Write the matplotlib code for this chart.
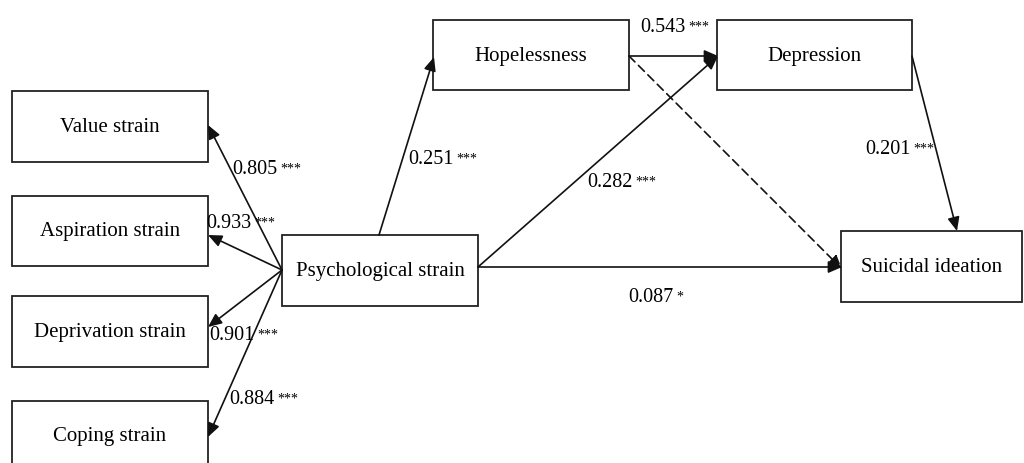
import matplotlib.pyplot as plt
from matplotlib.patches import Rectangle

plt.rcParams['font.family'] = ['Liberation Serif', 'DejaVu Serif']

# nodes of the path model
node_names = ['Value strain', 'Aspiration strain', 'Deprivation strain', 'Coping strain',
              'Psychological strain', 'Hopelessness', 'Depression', 'Suicidal ideation']

# paths: (from, to, coefficient, stars, dashed)
path_from = ['Psychological strain'] * 7 + ['Hopelessness', 'Hopelessness', 'Depression']
path_to = ['Value strain', 'Aspiration strain', 'Deprivation strain', 'Coping strain',
           'Hopelessness', 'Depression', 'Suicidal ideation',
           'Depression', 'Suicidal ideation', 'Suicidal ideation']
path_coef = ['0.805', '0.933', '0.901', '0.884', '0.251', '0.282', '0.087',
             '0.543', None, '0.201']
path_stars = ['***', '***', '***', '***', '***', '***', '*', '***', None, '***']
path_dashed = [False] * 8 + [True, False]

# layout (pixels, y down)
boxes = {
    'Value strain': (12, 92, 196, 71),
    'Aspiration strain': (12, 197, 196, 70),
    'Deprivation strain': (12, 297, 196, 71),
    'Coping strain': (12, 402, 196, 70),
    'Psychological strain': (282, 236, 196, 71),
    'Hopelessness': (433, 21, 196, 70),
    'Depression': (717, 21, 195, 70),
    'Suicidal ideation': (841, 232, 181, 71),
}
# start / end points of each arrow
ends = [
    ((282, 271), (208, 126)),
    ((282, 271), (208, 236)),
    ((282, 271), (208, 328)),
    ((282, 271), (208, 438)),
    ((379, 236), (434, 58)),
    ((478, 268), (718, 57)),
    ((478, 268), (842, 268)),
    ((629, 57), (718, 57)),
    ((629, 57), (842, 270)),
    ((912, 57), (957, 232)),
]
label_pos = [(232, 170), (206, 224), (209, 336), (229, 400), (408, 160),
             (587, 183), (628, 298), (640, 28), None, (865, 150)]

fig = plt.figure(figsize=(10.24, 4.64), dpi=100)
ax = fig.add_axes([0, 0, 1, 1])
ax.set_xlim(0, 1024)
ax.set_ylim(464, 0)
ax.axis('off')

for name in node_names:
    x, y, w, h = boxes[name]
    ax.add_patch(Rectangle((x, y), w, h, facecolor='white', edgecolor='#222222', lw=1.3, zorder=2))
    ax.text(x + w / 2, y + h / 2, name, ha='center', va='center', fontsize=15, zorder=3)

for i in range(len(path_from)):
    (x0, y0), (x1, y1) = ends[i]
    ax.annotate('', xy=(x1, y1), xytext=(x0, y0),
                arrowprops=dict(arrowstyle='-|>,head_length=0.55,head_width=0.24', color='#111111', lw=1.2,
                                linestyle=(0, (5, 3)) if path_dashed[i] else '-',
                                mutation_scale=15, shrinkA=0, shrinkB=0),
                zorder=4)
    if path_coef[i] is not None:
        lx, ly = label_pos[i]
        t = ax.text(lx, ly, path_coef[i], ha='left', va='center', fontsize=14.5, zorder=5)
        ax.annotate(path_stars[i], xy=(1, 0.88), xycoords=t, xytext=(2, 0),
                    textcoords='offset points', ha='left', va='top', fontsize=10, zorder=5)

fig.savefig('out.png', dpi=100, facecolor='white')
